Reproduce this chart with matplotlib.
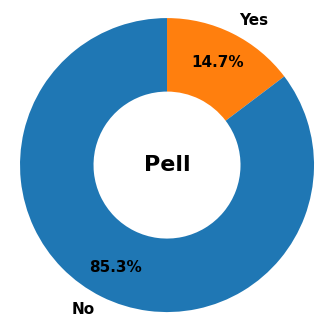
import matplotlib.pyplot as plt

labels = ["Yes", "No"]
shares = [14.7, 85.3]
colors = ["#ff7f0e", "#1f77b4"]

fig = plt.figure(figsize=(3.28, 3.26), dpi=100)
ax = fig.add_axes([-0.051, -0.07, 1.1204, 1.1273])

wedges, texts, autotexts = ax.pie(
    shares,
    labels=labels,
    colors=colors,
    autopct="%1.1f%%",
    startangle=90,
    counterclock=False,
    pctdistance=0.78,
    labeldistance=1.1,
    wedgeprops=dict(width=0.5),
    textprops=dict(fontsize=11, fontweight="bold"),
)

ax.text(0, 0, "Pell", ha="center", va="center", fontsize=16, fontweight="bold")
ax.set_aspect("equal")

fig.savefig("out.png", dpi=100)
